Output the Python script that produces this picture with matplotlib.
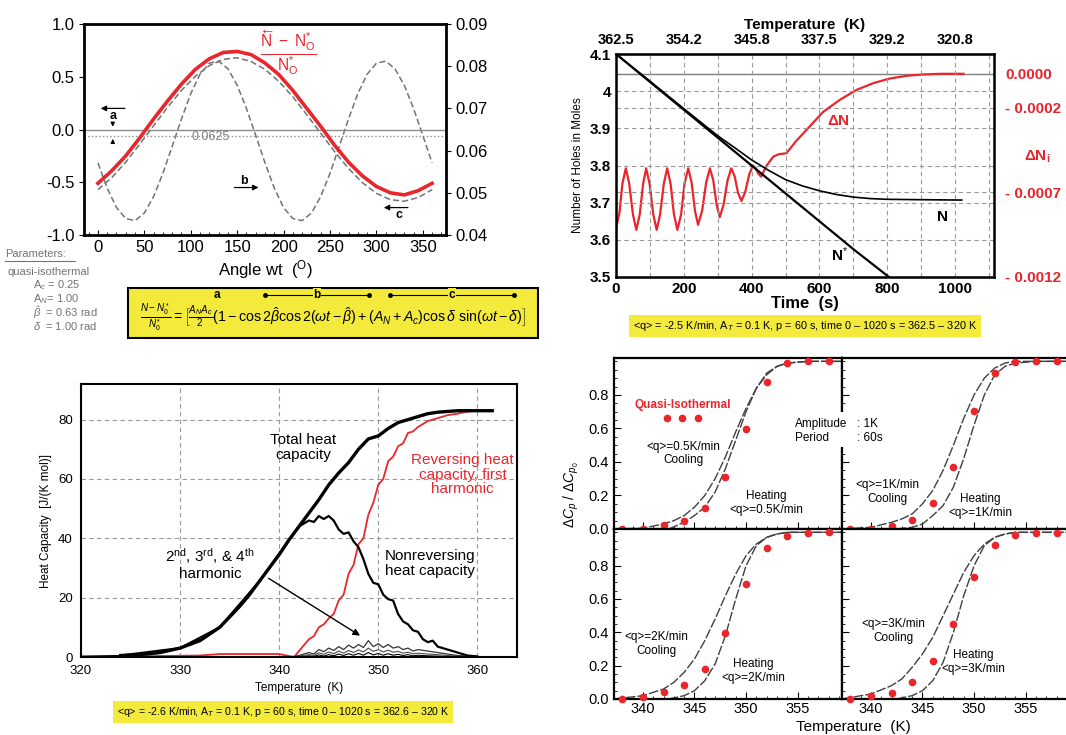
import matplotlib
matplotlib.use('Agg')
import matplotlib.pyplot as plt
from matplotlib.ticker import FormatStrFormatter, MultipleLocator
from matplotlib.patches import Rectangle
from matplotlib.lines import Line2D

plt.rcParams['font.family'] = ['Liberation Sans', 'DejaVu Sans']
plt.rcParams['axes.unicode_minus'] = False
plt.rcParams['mathtext.fontset'] = 'custom'
plt.rcParams['mathtext.rm'] = 'Liberation Sans'
plt.rcParams['mathtext.it'] = 'Liberation Sans:italic'
plt.rcParams['mathtext.bf'] = 'Liberation Sans:bold'

RED = '#e8262c'
YELLOW = '#f3ea3c'
GRAY = '0.45'

# ------------------------------------------------------------
# Panel 1: N - N0* over one modulation period
# ------------------------------------------------------------
angle = [0, 15, 30, 45, 60, 75, 90, 105, 120, 135, 150, 165, 180,
         195, 210, 225, 240, 255, 270, 285, 300, 315, 330, 345, 360]
frac_total = [-0.51, -0.39, -0.25, -0.08, 0.10, 0.27, 0.43, 0.57, 0.67, 0.73,
              0.74, 0.71, 0.63, 0.52, 0.37, 0.20, 0.03, -0.15, -0.31, -0.44,
              -0.54, -0.60, -0.62, -0.58, -0.51]
term_c = [-0.57, -0.455, -0.31, -0.14, 0.035, 0.21, 0.37, 0.505, 0.605, 0.665,
          0.68, 0.645, 0.57, 0.455, 0.31, 0.14, -0.035, -0.21, -0.37, -0.505,
          -0.605, -0.665, -0.68, -0.645, -0.57]
angle_b = list(range(0, 361, 10))
term_b = [0.0571, 0.0511, 0.0465, 0.0439, 0.0434, 0.0452, 0.0491, 0.0546, 0.0610,
          0.0675, 0.0735, 0.0781, 0.0807, 0.0812, 0.0794, 0.0755, 0.0700, 0.0636,
          0.0571, 0.0511, 0.0465, 0.0439, 0.0434, 0.0452, 0.0491, 0.0546, 0.0610,
          0.0675, 0.0735, 0.0781, 0.0807, 0.0812, 0.0794, 0.0755, 0.0700, 0.0636,
          0.0571]

# ------------------------------------------------------------
# Panel 2: number of holes vs time
# ------------------------------------------------------------
t_nstar = [0, 100, 200, 300, 400, 500, 600, 700, 805]
n_star = [4.10, 4.025, 3.95, 3.875, 3.80, 3.725, 3.65, 3.575, 3.50]
t_n = [0, 100, 200, 300, 350, 400, 450, 500, 550, 600, 650, 700, 750, 800, 900, 1020]
n_holes = [4.10, 4.027, 3.953, 3.88, 3.848, 3.815, 3.787, 3.762, 3.745, 3.732,
           3.722, 3.715, 3.711, 3.709, 3.708, 3.707]
t_dn = [0, 10, 19, 29, 39, 50, 60, 70, 80, 89, 99, 110, 120, 130, 141, 151, 161,
        171, 181, 192, 202, 213, 223, 233, 242, 254, 266, 277, 287, 297, 306, 317,
        329, 340, 350, 360, 370, 381, 393, 404, 412, 420, 428, 445, 464, 480, 503,
        530, 562, 611, 660, 710, 759, 808, 857, 906, 956, 1025]
delta_n = [-0.000912, -0.000824, -0.000647, -0.000558, -0.000649, -0.000831,
           -0.000922, -0.000831, -0.000649, -0.000558, -0.000649, -0.000831,
           -0.000922, -0.000831, -0.000649, -0.000558, -0.000649, -0.000831,
           -0.000922, -0.000831, -0.000649, -0.000558, -0.000642, -0.000809,
           -0.000892, -0.000809, -0.000642, -0.000558, -0.000630, -0.000775,
           -0.000847, -0.000775, -0.000630, -0.000558, -0.000606, -0.000703,
           -0.000751, -0.000699, -0.000594, -0.000542, -0.000558, -0.000591,
           -0.000607, -0.000540, -0.000489, -0.000475, -0.000469, -0.000400,
           -0.000331, -0.000225, -0.000154, -0.0000946, -0.0000552, -0.0000276,
           -0.0000118, -0.000004, 0.0, 0.0]
time_ticks = [0, 200, 400, 600, 800, 1000]
temp_labels = ['362.5', '354.2', '345.8', '337.5', '329.2', '320.8']
dn_ticks = [0.0, -0.0002, -0.0007, -0.0012]
dn_labels = ['0.0000', '- 0.0002', '- 0.0007', '- 0.0012']
holes_ticks = [3.5, 3.6, 3.7, 3.8, 3.9, 4.0, 4.1]
holes_labels = ['3.5', '3.6', '3.7', '3.8', '3.9', '4', '4.1']

# ------------------------------------------------------------
# Panel 3: heat capacity vs temperature
# ------------------------------------------------------------
T_total = [324, 326, 328, 330, 332, 334, 336, 337, 338, 339, 340, 341, 342, 343,
           344, 345, 346, 347, 348, 349, 350, 351, 352, 353, 354, 355, 356, 358,
           360, 361.5]
cp_total = [0.5, 0.8, 1.5, 3.0, 5.5, 10, 17, 21, 25.5, 30, 34.5, 39.5, 44, 48.5,
            53, 58, 62, 65.5, 70, 73.5, 74.5, 77, 79, 80, 81, 82, 82.5, 83, 83, 83]
T_rev = [320, 332, 334, 340, 341.5, 342, 343, 343.5, 344, 344.5, 345, 345.5, 346,
         346.5, 347, 347.5, 348, 348.5, 349, 349.5, 350, 350.5, 351, 351.5, 352,
         352.5, 353, 353.5, 354, 355, 356, 357, 358, 359, 360, 361.5]
cp_rev = [0, 0.5, 1, 1, 0, 2, 6, 7, 10, 11, 13, 14.5, 19, 21, 28, 31, 38, 40, 48,
          52, 58, 60, 66, 67.5, 71, 72, 75.5, 76, 77.5, 79.5, 80.5, 81.5, 82,
          82.7, 83, 83]
T_nonrev = [324, 330, 334, 338, 341, 342, 343, 343.5, 344, 344.5, 345, 345.5, 346,
            346.5, 347, 347.5, 348, 348.5, 349, 349.5, 350, 350.5, 351, 351.5, 352,
            352.5, 353, 353.5, 354, 354.5, 355, 355.5, 356, 357, 358, 359, 360]
cp_nonrev = [0.5, 3, 10, 25.5, 39.5, 44, 46, 45.5, 47.5, 46.5, 47.5, 46, 43, 41.5,
             42, 39, 37, 33, 28, 25, 24.5, 21, 19.5, 19, 14.5, 12, 11, 9, 8.5, 6,
             5, 5.5, 3.5, 2.5, 1.5, 0.5, 0.2]
T_harm = [341, 342, 343, 343.5, 344, 344.5, 345, 345.5, 346, 346.5, 347, 347.5,
          348, 348.5, 349, 349.5, 350, 350.5, 351, 351.5, 352, 352.5, 353, 353.5,
          354, 355, 356, 357, 358, 359, 360]
cp_harm2 = [0, 0.5, 1.5, 1.0, 2.5, 1.8, 3.0, 2.2, 3.5, 2.5, 4.0, 3.0, 4.2, 3.2, 5.5,
            3.5, 4.5, 3.2, 4.2, 3.0, 3.5, 2.5, 3.0, 2.0, 2.5, 2.0, 1.5, 1.0, 0.5,
            0.3, 0]
cp_harm3 = [0, 0.3, 0.8, 0.5, 1.4, 0.9, 1.7, 1.1, 2.0, 1.3, 2.2, 1.5, 2.4, 1.7, 3.0,
            1.9, 2.5, 1.7, 2.3, 1.6, 1.9, 1.3, 1.6, 1.1, 1.3, 1.0, 0.8, 0.5, 0.3,
            0.2, 0]
cp_harm4 = [0, 0.1, 0.4, 0.2, 0.7, 0.3, 0.8, 0.4, 1.0, 0.5, 1.1, 0.6, 1.2, 0.6, 1.5,
            0.7, 1.2, 0.6, 1.1, 0.6, 0.9, 0.5, 0.8, 0.4, 0.6, 0.4, 0.3, 0.2, 0.1,
            0.1, 0]

# ------------------------------------------------------------
# Panel 4: normalized dCp for four rates
# ------------------------------------------------------------
T_dots = [338, 340, 342, 344, 346, 348, 350, 352, 354, 356, 358]
dots_05 = [0, 0, 0.024, 0.046, 0.125, 0.308, 0.596, 0.879, 0.993, 1.0, 1.0]
dots_1 = [0, 0, 0.02, 0.056, 0.155, 0.367, 0.705, 0.93, 0.998, 1.0, 1.0]
dots_2 = [0, 0.012, 0.04, 0.083, 0.183, 0.394, 0.69, 0.906, 0.977, 0.995, 1.0]
dots_3 = [0, 0.016, 0.035, 0.10, 0.229, 0.449, 0.733, 0.922, 0.985, 0.995, 0.997]

T_cool = [337.2, 340, 342, 343, 344, 345, 346, 347, 348, 349, 350, 351, 352, 353,
          354, 356, 359.3]
cool_05 = [0, 0.005, 0.03, 0.05, 0.08, 0.13, 0.2, 0.3, 0.43, 0.58, 0.72, 0.84,
           0.92, 0.97, 0.99, 1.0, 1.0]
cool_1 = [0, 0.01, 0.04, 0.06, 0.09, 0.15, 0.23, 0.35, 0.5, 0.66, 0.8, 0.9, 0.96,
          0.99, 1.0, 1.0, 1.0]
cool_2 = [0, 0.02, 0.06, 0.1, 0.16, 0.24, 0.35, 0.48, 0.62, 0.75, 0.86, 0.93, 0.97,
          0.99, 1.0, 1.0, 1.0]
cool_3 = [0, 0.03, 0.08, 0.12, 0.19, 0.27, 0.37, 0.5, 0.63, 0.76, 0.86, 0.93, 0.97,
          0.99, 1.0, 1.0, 1.0]
T_heat = [342.5, 344, 345, 346, 347, 348, 349, 350, 351, 352, 353, 354, 356, 359.3]
heat_05 = [0, 0.04, 0.08, 0.13, 0.22, 0.36, 0.53, 0.7, 0.84, 0.93, 0.97, 0.99, 1.0, 1.0]
heat_1 = [0, 0.01, 0.03, 0.08, 0.14, 0.25, 0.42, 0.62, 0.8, 0.92, 0.97, 0.99, 1.0, 1.0]
heat_2 = [0, 0.02, 0.05, 0.11, 0.21, 0.38, 0.6, 0.8, 0.92, 0.97, 0.99, 1.0, 1.0, 1.0]
heat_3 = [0, 0.02, 0.05, 0.11, 0.22, 0.4, 0.62, 0.8, 0.92, 0.97, 0.99, 1.0, 1.0, 1.0]

W, H = 1066, 735


def px_box(x0, y0, x1, y1):
    return [x0 / W, 1 - y1 / H, (x1 - x0) / W, (y1 - y0) / H]


def fx(x):
    return x / W


def fy(y):
    return 1 - y / H


fig = plt.figure(figsize=(W / 100, H / 100), dpi=100)

# ================= panel 1 =================
ax1 = fig.add_axes(px_box(84, 24, 446, 235))
ax1b = ax1.twinx()
ax1.set_zorder(ax1b.get_zorder() + 1)
ax1.patch.set_visible(False)

ax1b.plot(angle_b, term_b, color=GRAY, lw=1.1, ls=(0, (4, 2)))
ax1b.set_ylim(0.04, 0.09)
ax1b.yaxis.set_major_locator(MultipleLocator(0.01))
ax1b.yaxis.set_major_formatter(FormatStrFormatter('%.2f'))

ax1.axhline(0, color='0.55', lw=1)
ax1.axhline(-0.0625, color='0.55', lw=1, ls=':')
ax1.plot(angle, term_c, color=GRAY, lw=1.1, ls=(0, (4, 2)))
ax1.plot(angle, frac_total, color=RED, lw=2.6)
ax1.set_xlim(-15, 375)
ax1.set_ylim(-1.0, 1.0)
ax1.xaxis.set_major_locator(MultipleLocator(50))
ax1.xaxis.set_minor_locator(MultipleLocator(10))
ax1.yaxis.set_major_locator(MultipleLocator(0.5))
ax1.yaxis.set_major_formatter(FormatStrFormatter('%.1f'))
ax1.tick_params(axis='x', which='both', direction='in')
ax1.tick_params(labelsize=12)
ax1b.tick_params(labelsize=12)
ax1.set_xlabel(r'Angle wt  ($^{\mathrm{O}}$)', fontsize=12, labelpad=2)
for sp in ax1.spines.values():
    sp.set_linewidth(2)

ax1.text(121, -0.07, '0.0625', color='0.5', fontsize=9, ha='center', va='center')
ax1.annotate('', xy=(0, 0.2), xytext=(32, 0.2),
             arrowprops=dict(arrowstyle='-|>', color='k', lw=0.9, mutation_scale=8))
ax1.text(16, 0.13, 'a', fontsize=9, fontweight='bold', ha='center', va='center')
ax1.annotate('', xy=(16, 0.0), xytext=(16, 0.08),
             arrowprops=dict(arrowstyle='-|>', color='k', lw=0.8, mutation_scale=6))
ax1.annotate('', xy=(16, -0.0625), xytext=(16, -0.16),
             arrowprops=dict(arrowstyle='-|>', color='k', lw=0.8, mutation_scale=6))
ax1.annotate('', xy=(176, -0.55), xytext=(144, -0.55),
             arrowprops=dict(arrowstyle='-|>', color='k', lw=0.9, mutation_scale=8))
ax1.text(157, -0.49, 'b', fontsize=9, fontweight='bold', ha='center', va='center')
ax1.annotate('', xy=(305, -0.74), xytext=(337, -0.74),
             arrowprops=dict(arrowstyle='-|>', color='k', lw=0.9, mutation_scale=8))
ax1.text(324, -0.81, 'c', fontsize=9, fontweight='bold', ha='center', va='center')
ax1.text(205, 0.72,
         r'$\frac{\overleftarrow{\mathrm{N}}\ -\ \mathrm{N}_\mathrm{O}^{*}}{\mathrm{N}_\mathrm{O}^{*}}$',
         color=RED, fontsize=16, ha='center', va='center')

# parameters and equation box
fig.text(fx(5), fy(254), 'Parameters:', color=GRAY, fontsize=8, va='center')
fig.add_artist(Line2D([fx(5), fx(75)], [fy(261), fy(261)], color=GRAY, lw=0.8))
fig.text(fx(8), fy(272), 'quasi-isothermal', color=GRAY, fontsize=8, va='center')
param_lines = [r'A$_c$ = 0.25', r'A$_N$= 1.00', r'$\hat{\beta}$  = 0.63 rad',
               r'$\delta$  = 1.00 rad']
for k, s in enumerate(param_lines):
    fig.text(fx(33), fy(285 + 13.7 * k), s, color=GRAY, fontsize=8, va='center')

fig.add_artist(Rectangle((fx(128), fy(338)), fx(538) - fx(128), fy(288) - fy(338),
                         transform=fig.transFigure, facecolor=YELLOW,
                         edgecolor='k', lw=1.5))
fig.text(fx(333), fy(317),
         r'$\frac{N - N_0^*}{N_0^*} = \left[\frac{A_N A_c}{2}(1 - \cos 2\hat{\beta}\cos 2(\omega t - \hat{\beta})'
         r' + (A_N + A_c)\cos\delta\ \sin(\omega t - \delta)\right]$',
         fontsize=10.2, ha='center', va='center')
fig.text(fx(217), fy(295), 'a', fontsize=8.5, fontweight='bold', ha='center', va='center')
for x0, x1, lab in [(265, 369, 'b'), (390, 514, 'c')]:
    fig.add_artist(Line2D([fx(x0), fx(x1)], [fy(295), fy(295)], color='k', lw=0.8,
                          marker='o', markersize=2.5, markevery=[0, 1]))
    fig.text(fx((x0 + x1) / 2), fy(295), lab, fontsize=8.5, fontweight='bold',
             ha='center', va='center', bbox=dict(fc=YELLOW, ec='none', pad=0.5))

# ================= panel 2 =================
ax2 = fig.add_axes(px_box(616, 54, 994, 277))
ax2r = ax2.twinx()
ax2.set_zorder(ax2r.get_zorder() + 1)
ax2.patch.set_visible(False)

ax2r.axhline(0, color='0.5', lw=1)
ax2r.plot(t_dn, delta_n, color=RED, lw=1.6)
ax2r.set_ylim(-0.0012, 0.000117)
ax2r.set_yticks(dn_ticks)
ax2r.set_yticklabels(dn_labels, color=RED, fontweight='bold', fontsize=11)
ax2r.tick_params(axis='y', length=0, pad=8)
ax2r.grid(axis='y', ls=(0, (4, 3)), color='0.6', lw=0.8)

ax2.plot(t_nstar, n_star, color='k', lw=1.6)
ax2.plot(t_n, n_holes, color='k', lw=1.2)
ax2.set_xlim(0, 1115)
ax2.set_ylim(3.5, 4.1)
ax2.set_xticks(time_ticks)
ax2.xaxis.set_minor_locator(MultipleLocator(100))
ax2.set_yticks(holes_ticks)
ax2.set_yticklabels(holes_labels)
ax2.grid(which='both', ls=(0, (4, 3)), color='0.6', lw=0.8)
ax2.tick_params(which='both', length=0)
for lab in ax2.get_xticklabels() + ax2.get_yticklabels():
    lab.set_fontweight('bold')
    lab.set_fontsize(11)
ax2.set_xlabel('Time  (s)', fontsize=12, fontweight='bold', labelpad=0)
ax2.set_ylabel('Number of Holes in Moles', fontsize=8.5, labelpad=4)
for sp in ax2.spines.values():
    sp.set_linewidth(1.8)
ax2t = ax2.secondary_xaxis('top')
ax2t.set_xticks(time_ticks)
ax2t.set_xticklabels(temp_labels, fontweight='bold', fontsize=10.5)
ax2t.tick_params(length=0, pad=5)
ax2t.set_xlabel('Temperature  (K)', fontsize=11, fontweight='bold', labelpad=3)

ax2r.text(655, -0.00028, r'$\mathbf{\Delta N}$', color=RED, fontsize=11,
          ha='center', va='center')
ax2.text(963, 3.662, 'N', fontsize=11, fontweight='bold', ha='center', va='center')
ax2.text(660, 3.559, r'N$^{*}$', fontsize=11, fontweight='bold', ha='center', va='center')
fig.text(fx(1037), fy(157), r'$\mathbf{\Delta N_i}$', color=RED, fontsize=11,
         ha='center', va='center')
fig.text(fx(805), fy(326),
         r'<q> = -2.5 K/min, A$_T$ = 0.1 K, p = 60 s, time 0 – 1020 s = 362.5 – 320 K',
         fontsize=7.8, ha='center', va='center',
         bbox=dict(boxstyle='square,pad=0.4', fc=YELLOW, ec='none'))

# ================= panel 3 =================
ax3 = fig.add_axes(px_box(81, 384, 517, 657))
ax3.plot(T_harm, cp_harm4, color='k', lw=0.8)
ax3.plot(T_harm, cp_harm3, color='0.3', lw=0.8)
ax3.plot(T_harm, cp_harm2, color='0.2', lw=0.9)
ax3.plot(T_rev, cp_rev, color=RED, lw=1.3)
ax3.plot(T_nonrev, cp_nonrev, color='k', lw=1.6)
ax3.plot(T_total, cp_total, color='k', lw=2.4)
ax3.plot([320, 324], [0.3, 0.5], color='k', lw=0.8)
ax3.set_xlim(320, 364)
ax3.set_ylim(0, 92)
ax3.xaxis.set_major_locator(MultipleLocator(10))
ax3.yaxis.set_major_locator(MultipleLocator(20))
ax3.grid(ls=(0, (4, 3)), color='0.6', lw=0.8)
ax3.tick_params(length=0, labelsize=9.5)
ax3.tick_params(axis='x', pad=6)
ax3.tick_params(axis='y', pad=6)
ax3.set_xlabel('Temperature  (K)', fontsize=8.5, labelpad=3)
ax3.set_ylabel('Heat Capacity  [J/(K mol)]', fontsize=8.5)
for sp in ax3.spines.values():
    sp.set_linewidth(1.5)
ax3.text(342.4, 70.5, 'Total heat\ncapacity', fontsize=11, ha='center', va='center',
         linespacing=1.1)
ax3.text(358.5, 61.5, 'Reversing heat\ncapacity, first\nharmonic', fontsize=11,
         color=RED, ha='center', va='center', linespacing=1.05)
ax3.text(355.2, 31.5, 'Nonreversing\nheat capacity', fontsize=11, ha='center',
         va='center', linespacing=1.1)
ax3.text(333.0, 31.5, '2$^{\\mathrm{nd}}$, 3$^{\\mathrm{rd}}$, & 4$^{\\mathrm{th}}$\nharmonic',
         fontsize=11, ha='center', va='center', linespacing=1.1)
ax3.annotate('', xy=(348.4, 6.7), xytext=(338.7, 27),
             arrowprops=dict(arrowstyle='-|>', color='k', lw=1.0, mutation_scale=10))
fig.text(fx(283), fy(712),
         r'<q> = -2.6 K/min, A$_T$ = 0.1 K, p = 60 s, time 0 – 1020 s = 362.6 – 320 K',
         fontsize=7.6, ha='center', va='center',
         bbox=dict(boxstyle='square,pad=0.4', fc=YELLOW, ec='none'))

# ================= panel 4 =================
boxes = [(614, 358, 842, 529), (842, 358, 1070, 529),
         (614, 529, 842, 699), (842, 529, 1070, 699)]
dots = [dots_05, dots_1, dots_2, dots_3]
cools = [cool_05, cool_1, cool_2, cool_3]
heats = [heat_05, heat_1, heat_2, heat_3]
axs4 = []
for i, b in enumerate(boxes):
    ax = fig.add_axes(px_box(*b))
    ax.plot(T_cool, cools[i], color='0.25', lw=1.0, ls=(0, (7, 1.5)))
    ax.plot(T_heat, heats[i], color='0.25', lw=1.0, ls=(0, (7, 1.5)))
    ax.plot(T_dots, dots[i], 'o', color=RED, markersize=4.5, clip_on=False, zorder=5)
    ax.set_xlim(337.2, 359.3)
    ax.set_ylim(0, 1.02)
    ax.xaxis.set_major_locator(MultipleLocator(5))
    ax.xaxis.set_minor_locator(MultipleLocator(1))
    ax.yaxis.set_major_locator(MultipleLocator(0.2))
    ax.yaxis.set_minor_locator(MultipleLocator(0.05))
    ax.yaxis.set_major_formatter(FormatStrFormatter('%.1f'))
    ax.tick_params(which='both', direction='in', labelsize=10.5)
    ax.tick_params(which='major', length=5)
    ax.tick_params(which='minor', length=2.5)
    ax.tick_params(axis='x', pad=2)
    ax.set_yticks([0.0, 0.2, 0.4, 0.6, 0.8])
    if i in (0, 1):
        ax.tick_params(labelbottom=False)
    if i in (1, 3):
        ax.tick_params(labelleft=False)
    for sp in ax.spines.values():
        sp.set_linewidth(1.6)
    axs4.append(ax)

axs4[0].text(343.9, 0.74, 'Quasi-Isothermal', color=RED, fontsize=8.5,
             fontweight='bold', ha='center', va='center')
axs4[0].plot([342.3, 343.8, 345.3], [0.665, 0.665, 0.665], 'o', color=RED,
             markersize=4.5)
axs4[0].text(343.9, 0.45, '<q>=0.5K/min\nCooling', fontsize=8.5, ha='center', va='center')
axs4[0].text(352.0, 0.155, 'Heating\n<q>=0.5K/min', fontsize=8.5, ha='center', va='center')
axs4[1].text(341.6, 0.22, '<q>=1K/min\nCooling', fontsize=8.5, ha='center', va='center')
axs4[1].text(350.6, 0.135, 'Heating\n<q>=1K/min', fontsize=8.5, ha='center', va='center')
axs4[2].text(341.3, 0.33, '<q>=2K/min\nCooling', fontsize=8.5, ha='center', va='center')
axs4[2].text(350.7, 0.17, 'Heating\n<q>=2K/min', fontsize=8.5, ha='center', va='center')
axs4[3].text(342.2, 0.41, '<q>=3K/min\nCooling', fontsize=8.5, ha='center', va='center')
axs4[3].text(349.9, 0.22, 'Heating\n<q>=3K/min', fontsize=8.5, ha='center', va='center')

fig.add_artist(Rectangle((fx(790), fy(447)), fx(892) - fx(790), fy(412) - fy(447),
                         transform=fig.transFigure, facecolor='white',
                         edgecolor='none', zorder=10))
for y, left, right in [(424, 'Amplitude', ': 1K'), (438, 'Period', ': 60s')]:
    fig.text(fx(795), fy(y), left, fontsize=8.5, va='center', zorder=11)
    fig.text(fx(857), fy(y), right, fontsize=8.5, va='center', zorder=11)

fig.text(fx(571), fy(495), r'$\Delta C_p\ /\ \Delta C_{p_0}$', fontsize=10,
         rotation=90, ha='center', va='center')
fig.text(fx(853), fy(727), 'Temperature  (K)', fontsize=11, ha='center', va='center')

fig.savefig('out.png', dpi=100)
